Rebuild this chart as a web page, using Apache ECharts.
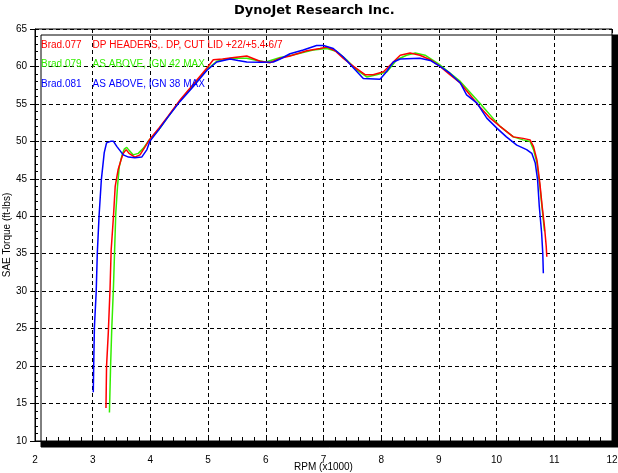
<!DOCTYPE html>
<html><head><meta charset="utf-8">
<script src="https://cdn.jsdelivr.net/npm/echarts@6/dist/echarts.min.js"></script>
<style>html,body{margin:0;padding:0;background:#fff}#c{width:618px;height:473px}</style>
</head><body><div id="c"></div>
<script>
// Brad.077 (red)
var redRpm = [3.23,3.24,3.27,3.30,3.32,3.36,3.39,3.44,3.49,3.53,3.58,3.63,3.73,3.82,3.91,3.99,4.15,4.30,4.51,4.74,4.98,5.09,5.25,5.45,5.67,5.90,6.07,6.25,6.42,6.71,6.94,7.06,7.20,7.34,7.52,7.72,7.86,8.04,8.21,8.33,8.50,8.67,8.85,9.02,9.19,9.37,9.54,9.71,9.89,10.06,10.29,10.46,10.58,10.64,10.70,10.75,10.79,10.83,10.86,10.87];
var redTq  = [14.4,20.0,24.4,30.2,35.5,40.0,44.0,46.2,47.5,48.4,48.9,48.4,47.9,48.2,49.3,50.3,51.8,53.3,55.5,57.6,59.8,60.9,61.0,61.2,61.4,60.7,60.5,61.1,61.4,62.1,62.4,62.6,62.1,61.1,60.0,58.9,58.9,59.3,60.6,61.5,61.8,61.5,60.9,60.0,58.9,57.8,56.2,54.6,53.1,52.0,50.6,50.4,50.2,49.3,47.5,44.4,41.3,38.6,36.0,34.6];
// Brad.079 (green)
var greenRpm = [3.29,3.31,3.33,3.36,3.38,3.40,3.43,3.46,3.51,3.55,3.59,3.63,3.70,3.79,3.88,3.96,4.15,4.30,4.51,4.74,4.98,5.15,5.40,5.67,5.85,6.00,6.25,6.45,6.82,7.06,7.23,7.40,7.58,7.75,7.92,8.10,8.27,8.44,8.59,8.76,9.02,9.37,9.71,10.06,10.29,10.46,10.58,10.64,10.70,10.75,10.79,10.83];
var greenTq  = [13.8,20.0,24.9,30.6,35.5,40.4,44.0,46.6,48.2,49.0,49.2,48.8,48.2,48.4,49.1,50.0,51.6,53.2,55.4,57.5,59.6,60.7,61.1,61.1,60.8,60.6,61.2,61.5,62.2,62.4,62.0,60.9,59.5,58.6,58.9,59.3,60.9,61.5,61.8,61.5,60.2,58.0,55.1,52.0,50.6,50.2,50.0,48.9,47.1,44.0,41.0,38.0];
// Brad.081 (blue)
var blueRpm = [3.01,3.02,3.03,3.06,3.08,3.11,3.15,3.20,3.24,3.31,3.36,3.42,3.53,3.62,3.73,3.85,3.94,3.99,4.15,4.30,4.51,4.74,4.98,5.15,5.38,5.52,5.67,5.90,6.13,6.25,6.42,6.65,6.88,7.00,7.17,7.34,7.52,7.69,7.98,8.07,8.21,8.33,8.67,8.85,9.02,9.19,9.37,9.48,9.66,9.83,10.00,10.17,10.35,10.52,10.61,10.67,10.71,10.74,10.78,10.80,10.81];
var blueTq  = [16.5,21.3,25.3,29.8,35.1,40.0,44.9,48.5,49.8,50.0,50.0,49.3,48.2,47.9,47.8,47.9,48.9,50.0,51.6,53.2,55.3,57.3,59.5,60.6,61.0,60.8,60.6,60.55,60.6,61.0,61.7,62.2,62.8,62.8,62.4,61.3,59.8,58.4,58.3,59.1,60.6,61.0,61.1,60.8,60.0,59.1,57.8,56.2,55.1,53.1,51.8,50.6,49.5,48.9,48.4,47.1,44.9,41.3,37.8,35.1,32.4];

var runNames = ['Brad.077','Brad.079','Brad.081'];
var runNotes = ['DP HEADERS,. DP, CUT LID +22/+5.4-6/7','AS ABOVE, IGN 42 MAX','AS ABOVE, IGN 38 MAX'];
var runColors = ['#ff0000','#33ee00','#0000ff'];
var xMin = 2, xMax = 12, yMin = 10, yMax = 65;

function pairs(xs, ys){ return xs.map(function(x,i){ return [x, ys[i]]; }); }

var FONT = 'Liberation Sans';
var chart = echarts.init(document.getElementById('c'), null, {renderer:'canvas'});
var notesByName = {}; runNames.forEach(function(n,i){ notesByName[n] = runNotes[i]; });

function mkSeries(i, xs, ys){
  return {
    name: runNames[i], type:'line', data: pairs(xs, ys), showSymbol:false, symbol:'none',
    lineStyle:{color: runColors[i], width:1.5}, itemStyle:{color: runColors[i]},
    animation:false, z: 3
  };
}

chart.setOption({
  animation:false,
  backgroundColor:'#fff',
  title:{ text:'DynoJet Research Inc.', left:229, top:-1,
    textStyle:{fontFamily:'DejaVu Sans', fontSize:13, fontWeight:'bold', color:'#000'} },
  legend:{ orient:'vertical', left:31, top:35.5, icon:'none', itemWidth:0, itemHeight:10, itemGap:9.2,
    data: runNames, selectedMode:false,
    textStyle:{fontFamily:FONT, fontSize:10, color:'inherit',
      rich:{ a:{width:51.6, fontFamily:FONT, fontSize:10}, b:{fontFamily:FONT, fontSize:10} } },
    formatter:function(n){ return '{a|' + n + '}{b|' + notesByName[n] + '}'; } },
  grid:{ left:35, top:29, right:6, bottom:32, show:true, backgroundColor:'#fff',
    outerBoundsMode:'none', containLabel:false,
    borderColor:'#000', borderWidth:1, shadowColor:'#000', shadowBlur:0, shadowOffsetX:6, shadowOffsetY:6 },
  xAxis:{ type:'value', min:xMin, max:xMax, interval:1,
    name:'RPM (x1000)', nameLocation:'middle', nameGap:26, nameMoveOverlap:false,
    nameTextStyle:{fontFamily:FONT, fontSize:10, color:'#000', verticalAlign:'middle'},
    axisLine:{show:true, lineStyle:{color:'#000', width:1}},
    axisTick:{show:true, inside:true, length:4, lineStyle:{color:'#000'}},
    minorTick:{show:true, splitNumber:5, length:4, lineStyle:{color:'#000'}},
    axisLabel:{fontFamily:FONT, fontSize:10, color:'#000', margin:14},
    splitLine:{show:true, lineStyle:{color:'#000', type:[4,3], width:1}} },
  yAxis:[{ type:'value', min:yMin, max:yMax, interval:5,
    name:'SAE Torque (ft-lbs)', nameLocation:'middle', nameGap:28, nameMoveOverlap:false,
    nameTextStyle:{fontFamily:FONT, fontSize:10, color:'#000', verticalAlign:'middle'},
    axisLine:{show:true, lineStyle:{color:'#000', width:1}},
    axisTick:{show:true, inside:false, length:5, lineStyle:{color:'#000'}},
    axisLabel:{fontFamily:FONT, fontSize:10, color:'#000', margin:8},
    splitLine:{show:true, lineStyle:{color:'#000', type:[4,3], width:1}} },
   { type:'value', min:yMin, max:yMax, interval:5, position:'left',
    axisLine:{show:false}, axisLabel:{show:false}, splitLine:{show:false},
    axisTick:{show:false, inside:true},
    minorTick:{show:true, splitNumber:5, length:3, lineStyle:{color:'#000'}} }],
  series:[ mkSeries(1, greenRpm, greenTq), mkSeries(0, redRpm, redTq), mkSeries(2, blueRpm, blueTq) ]
});
</script></body></html>
